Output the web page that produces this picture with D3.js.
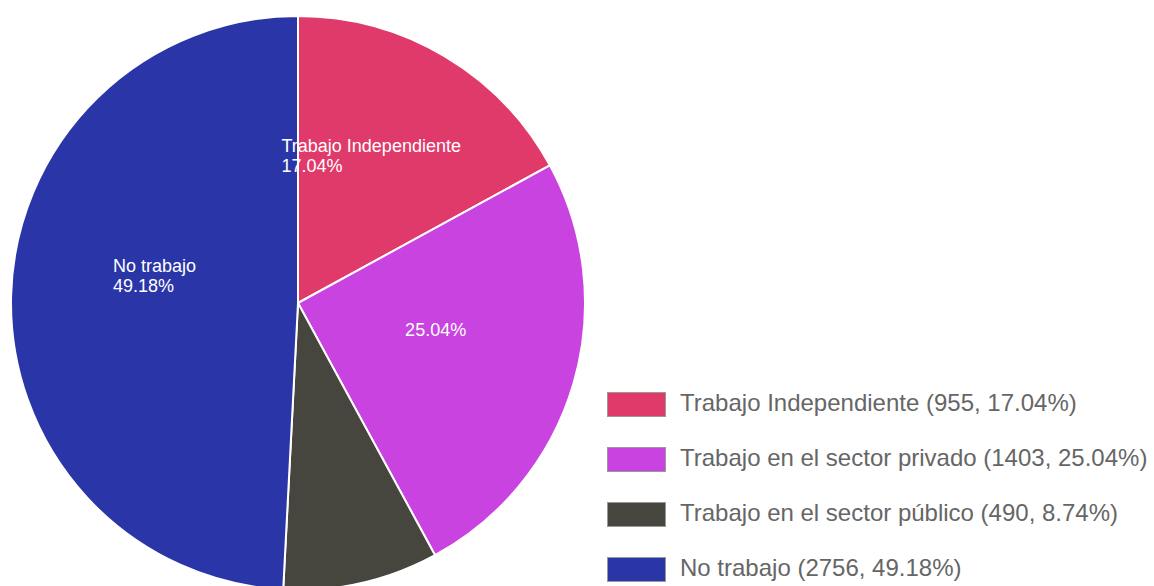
<!DOCTYPE html>
<html>
<head>
<meta charset="utf-8">
<script src="https://cdn.jsdelivr.net/npm/d3@7"></script>
<style>
  body { margin: 0; background: #fff; }
  svg { display: block; font-family: "Liberation Sans", Arial, Helvetica, sans-serif; }
</style>
</head>
<body>
<div id="chart"></div>
<script>
// data
const categories = ["Trabajo Independiente", "Trabajo en el sector privado", "Trabajo en el sector público", "No trabajo"]
const counts = [955, 1403, 490, 2756]
const percents = ["17.04", "25.04", "8.74", "49.18"]
const colors = ["#e03a6b", "#c843e0", "#46453e", "#2a35a8"]
// which slices show name + pct, pct only, or nothing
const sliceLabelMode = ["full", "pct", "none", "full"]

const width = 1154, height = 586
const cx = 298, cy = 303, radius = 287

const svg = d3.select("#chart").append("svg")
    .attr("width", width)
    .attr("height", height)

const data = categories.map((c, i) => ({name: c, value: counts[i], pct: percents[i], color: colors[i], mode: sliceLabelMode[i]}))

const pie = d3.pie().sort(null).value(d => d.value)
const arc = d3.arc().innerRadius(0).outerRadius(radius)
const labelArc = d3.arc().innerRadius(radius * 0.5).outerRadius(radius * 0.5)

const g = svg.append("g").attr("transform", `translate(${cx},${cy})`)

const arcs = pie(data)

g.selectAll("path")
    .data(arcs)
    .enter()
    .append("path")
    .attr("d", arc)
    .attr("fill", d => d.data.color)
    .attr("stroke", "#fff")
    .attr("stroke-width", 2)

// slice labels: left-aligned block, centred on the centroid x,
// last line sits just above the centroid
const lineH = 20
const labels = g.selectAll(".slice-label")
    .data(arcs.filter(d => d.data.mode !== "none"))
    .enter()
    .append("text")
    .attr("class", "slice-label")
    .attr("transform", d => `translate(${labelArc.centroid(d)})`)
    .attr("fill", "#fff")
    .attr("font-size", 18)
    .attr("text-anchor", "start")

labels.each(function(d) {
    let t = d3.select(this)
    let lines = d.data.mode === "full" ? [d.data.name, d.data.pct + "%"] : [d.data.pct + "%"]
    let spans = lines.map((l, i) => t.append("tspan")
        .attr("y", -7.5 - (lines.length - 1 - i) * lineH)
        .text(l))
    let w = d3.max(spans, s => s.node().getComputedTextLength())
    spans.forEach(s => s.attr("x", -w / 2))
})

// legend
const legend = svg.append("g")
    .attr("transform", "translate(607, 392)")
    .selectAll("g")
    .data(data)
    .enter()
    .append("g")
    .attr("transform", (d, i) => `translate(0, ${i * 55})`)

legend.append("rect")
    .attr("x", 0.5)
    .attr("y", 0.5)
    .attr("width", 58)
    .attr("height", 24)
    .attr("fill", d => d.color)
    .attr("stroke", "#999")
    .attr("stroke-width", 1)

legend.append("text")
    .attr("x", 73)
    .attr("y", 12.5)
    .attr("dy", "0.28em")
    .attr("fill", "#666")
    .attr("font-size", 24)
    .text(d => `${d.name} (${d.value}, ${d.pct}%)`)
</script>
</body>
</html>
